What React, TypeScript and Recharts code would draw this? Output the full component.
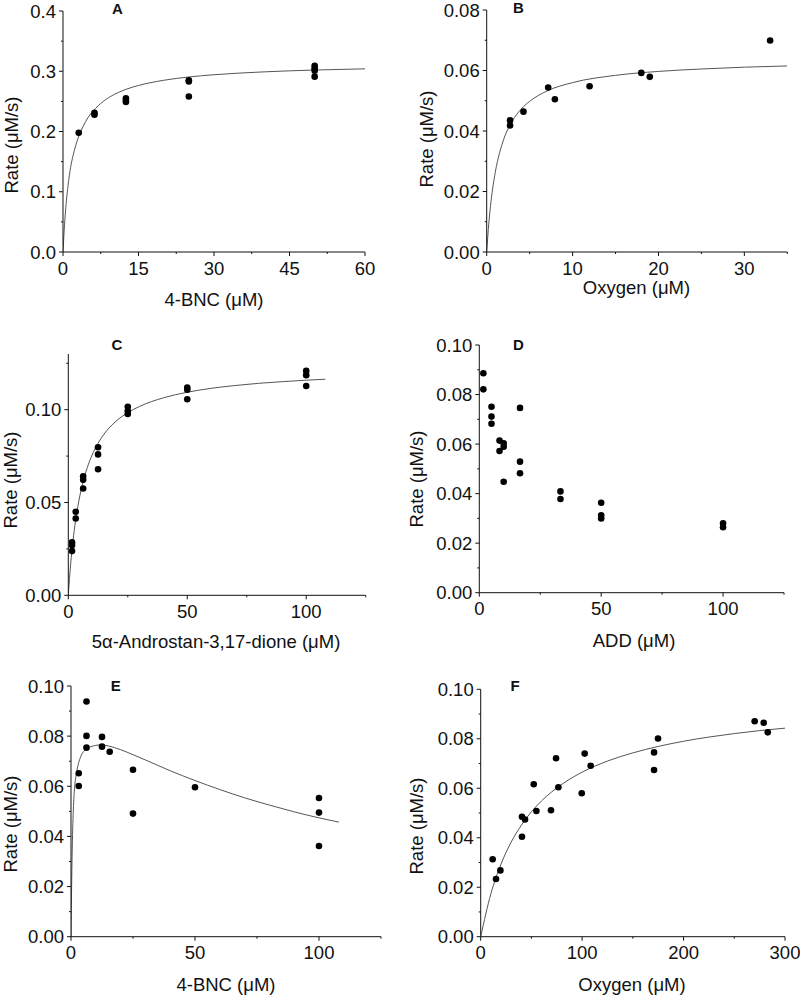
import React from 'react';
import { ComposedChart, XAxis, YAxis, Scatter, Line } from 'recharts';

const FONT = '"Liberation Sans", Arial, Helvetica, sans-serif';
const PAGE_W = 800;
const PAGE_H = 995;

// ---------- Panel A ----------
const aPointX = [3.125, 6.25, 6.25, 12.5, 12.5, 12.5, 25, 25, 25, 50, 50, 50, 50];
const aPointY = [0.198, 0.231, 0.228, 0.255, 0.251, 0.249, 0.285, 0.283, 0.258, 0.309, 0.305, 0.301, 0.291];
const aCurveX = [0, 0.25, 0.5, 1, 1.5, 2, 3, 4, 5, 6, 8, 10, 12.5, 15, 20, 25, 30, 40, 50, 60];
const aCurveY = [0, 0.038, 0.068, 0.11, 0.14, 0.16, 0.189, 0.2085, 0.2235, 0.234, 0.25, 0.2607, 0.27, 0.2764, 0.285, 0.2905, 0.2942, 0.299, 0.302, 0.304];
const aXMajor = [0, 15, 30, 45, 60];
const aXMinor = [7.5, 22.5, 37.5, 52.5];
const aYMajor = [0, 0.1, 0.2, 0.3, 0.4];
const aYMinor = [0.05, 0.15, 0.25, 0.35];

// ---------- Panel B ----------
const bPointX = [2.72, 2.72, 4.28, 7.16, 7.94, 11.98, 18.0, 18.99, 33.0];
const bPointY = [0.0435, 0.0418, 0.0464, 0.0544, 0.0505, 0.0548, 0.0592, 0.0579, 0.0699];
const bCurveX = [0, 0.25, 0.5, 1, 1.5, 2, 3, 4, 5, 7, 10, 15, 20, 25, 30, 35];
const bCurveY = [0, 0.0096, 0.0166, 0.0264, 0.0328, 0.0374, 0.0434, 0.0472, 0.0498, 0.0532, 0.056, 0.0584, 0.0597, 0.0605, 0.0611, 0.0615];
const bXMajor = [0, 10, 20, 30];
const bXMinor = [5, 15, 25, 35];
const bYMajor = [0, 0.02, 0.04, 0.06, 0.08];
const bYMinor = [0.01, 0.03, 0.05, 0.07];

// ---------- Panel C ----------
const cPointX = [1.5625, 1.5625, 1.5625, 3.125, 3.125, 6.25, 6.25, 6.25, 12.5, 12.5, 12.5, 25, 25, 25, 50, 50, 50, 100, 100, 100];
const cPointY = [0.0285, 0.027, 0.0238, 0.045, 0.0414, 0.0641, 0.0622, 0.0575, 0.0798, 0.0759, 0.0679, 0.1016, 0.0993, 0.0977, 0.1119, 0.1108, 0.1056, 0.1209, 0.1186, 0.1128];
const cCurveX = [0, 0.5, 1, 2, 3, 4, 6, 8, 10, 12.5, 15, 20, 25, 30, 40, 50, 60, 70, 80, 90, 100, 108];
const cCurveY = [0, 0.0091, 0.0169, 0.0297, 0.0397, 0.0478, 0.0601, 0.0689, 0.0756, 0.0819, 0.0868, 0.0937, 0.0984, 0.1018, 0.1064, 0.1094, 0.1115, 0.113, 0.1142, 0.1151, 0.1159, 0.1164];
const cXMajor = [0, 50, 100];
const cXMinor = [25, 75, 125];
const cYMajor = [0, 0.05, 0.1];
const cYMinor = [0.025, 0.075, 0.125];

// ---------- Panel D ----------
const dPointX = [1.67, 1.67, 5, 5, 5, 8.3, 8.3, 10, 10, 10, 16.7, 16.7, 16.7, 33.3, 33.3, 50, 50, 50, 100, 100];
const dPointY = [0.0886, 0.0821, 0.0751, 0.0711, 0.0682, 0.0614, 0.0572, 0.0603, 0.0589, 0.0448, 0.0746, 0.0529, 0.0482, 0.0409, 0.0378, 0.0363, 0.0312, 0.03, 0.028, 0.0264];
const dXMajor = [0, 50, 100];
const dXMinor = [25, 75, 125];
const dYMajor = [0, 0.02, 0.04, 0.06, 0.08, 0.1];
const dYMinor = [0.01, 0.03, 0.05, 0.07, 0.09];

// ---------- Panel E ----------
const ePointX = [3.125, 3.125, 6.25, 6.25, 6.25, 12.5, 12.5, 15.6, 25, 25, 50, 100, 100, 100];
const ePointY = [0.0652, 0.0601, 0.0938, 0.0801, 0.0754, 0.0797, 0.0758, 0.0738, 0.0666, 0.0491, 0.0596, 0.0553, 0.0495, 0.0362];
const eCurveX = [0, 0.25, 0.5, 1, 1.5, 2, 3, 4, 6, 8, 10, 12, 15, 20, 25, 30, 40, 50, 60, 70, 80, 90, 100, 108];
const eCurveY = [0, 0.02, 0.035, 0.052, 0.06, 0.064, 0.069, 0.072, 0.0748, 0.0758, 0.0763, 0.0765, 0.0761, 0.0746, 0.0726, 0.0705, 0.0662, 0.0623, 0.0587, 0.0554, 0.0525, 0.0498, 0.0474, 0.0457];
const eXMajor = [0, 50, 100];
const eXMinor = [25, 75, 125];
const eYMajor = [0, 0.02, 0.04, 0.06, 0.08, 0.1];
const eYMinor = [0.01, 0.03, 0.05, 0.07, 0.09];

// ---------- Panel F ----------
const fPointX = [11.8, 15.1, 19.4, 40.7, 40.7, 43.7, 52.3, 54.9, 69.3, 74.3, 76.6, 99.6, 102.5, 108.4, 170.9, 170.9, 174.8, 270.1, 279, 283];
const fPointY = [0.0313, 0.0233, 0.0268, 0.0485, 0.0404, 0.0474, 0.0616, 0.0508, 0.0511, 0.0721, 0.0604, 0.058, 0.074, 0.0691, 0.0745, 0.0674, 0.0801, 0.0871, 0.0865, 0.0826];
const fCurveX = [0, 10, 20, 30, 40, 50, 60, 80, 100, 125, 150, 175, 200, 225, 250, 275, 300];
const fCurveY = [0, 0.0173, 0.0293, 0.0382, 0.045, 0.0505, 0.0549, 0.0616, 0.0665, 0.071, 0.0743, 0.0769, 0.079, 0.0807, 0.0821, 0.0833, 0.0843];
const fXMajor = [0, 100, 200, 300];
const fXMinor = [50, 150, 250];
const fYMajor = [0, 0.02, 0.04, 0.06, 0.08, 0.1];
const fYMinor = [0.01, 0.03, 0.05, 0.07, 0.09];

type Pt = { x: number; y: number };
const zip = (xs: number[], ys: number[]): Pt[] => xs.map((x, i) => ({ x, y: ys[i] }));

type PanelSpec = {
  letter: string;
  letterPos: [number, number];
  box: { left: number; right: number; top: number; bottom: number };
  xDomain: [number, number];
  yDomain: [number, number];
  xMajor: number[];
  xMinor: number[];
  yMajor: number[];
  yMinor: number[];
  yDecimals: number;
  points: Pt[];
  curve: Pt[] | null;
  xTitle: string;
  xTitlePos: [number, number];
  yTitlePos: [number, number];
};

const panels: PanelSpec[] = [
  {
    letter: 'A', letterPos: [117.5, 8.5],
    box: { left: 63, right: 365, top: 11, bottom: 252 },
    xDomain: [0, 60], yDomain: [0, 0.4],
    xMajor: aXMajor, xMinor: aXMinor, yMajor: aYMajor, yMinor: aYMinor, yDecimals: 1,
    points: zip(aPointX, aPointY), curve: zip(aCurveX, aCurveY),
    xTitle: '4-BNC (μM)', xTitlePos: [214, 301.5], yTitlePos: [13.5, 145],
  },
  {
    letter: 'B', letterPos: [518.5, 8],
    box: { left: 486.7, right: 787.3, top: 10, bottom: 252 },
    xDomain: [0, 35], yDomain: [0, 0.08],
    xMajor: bXMajor, xMinor: bXMinor, yMajor: bYMajor, yMinor: bYMinor, yDecimals: 2,
    points: zip(bPointX, bPointY), curve: zip(bCurveX, bCurveY),
    xTitle: 'Oxygen (μM)', xTitlePos: [636.5, 289.5], yTitlePos: [428.5, 139],
  },
  {
    letter: 'C', letterPos: [117, 345],
    box: { left: 68.3, right: 365.7, top: 354, bottom: 595.3 },
    xDomain: [0, 125], yDomain: [0, 0.13],
    xMajor: cXMajor, xMinor: cXMinor, yMajor: cYMajor, yMinor: cYMinor, yDecimals: 2,
    points: zip(cPointX, cPointY), curve: zip(cCurveX, cCurveY),
    xTitle: '5α-Androstan-3,17-dione (μM)', xTitlePos: [216, 643.5], yTitlePos: [12, 480],
  },
  {
    letter: 'D', letterPos: [518.3, 345],
    box: { left: 479.3, right: 784, top: 345, bottom: 592.7 },
    xDomain: [0, 125], yDomain: [0, 0.1],
    xMajor: dXMajor, xMinor: dXMinor, yMajor: dYMajor, yMinor: dYMinor, yDecimals: 2,
    points: zip(dPointX, dPointY), curve: null,
    xTitle: 'ADD (μM)', xTitlePos: [634, 642], yTitlePos: [418.5, 479],
  },
  {
    letter: 'E', letterPos: [115.7, 686],
    box: { left: 71, right: 381, top: 686, bottom: 936.7 },
    xDomain: [0, 125], yDomain: [0, 0.1],
    xMajor: eXMajor, xMinor: eXMinor, yMajor: eYMajor, yMinor: eYMinor, yDecimals: 2,
    points: zip(ePointX, ePointY), curve: zip(eCurveX, eCurveY),
    xTitle: '4-BNC (μM)', xTitlePos: [226, 986], yTitlePos: [12, 824],
  },
  {
    letter: 'F', letterPos: [515, 686],
    box: { left: 480.7, right: 785, top: 689.3, bottom: 936.7 },
    xDomain: [0, 300], yDomain: [0, 0.1],
    xMajor: fXMajor, xMinor: fXMinor, yMajor: fYMajor, yMinor: fYMinor, yDecimals: 2,
    points: zip(fPointX, fPointY), curve: zip(fCurveX, fCurveY),
    xTitle: 'Oxygen (μM)', xTitlePos: [632, 986], yTitlePos: [418, 826],
  },
];

const TICK_FS = 18.5;
const TITLE_FS = 18.5;
const AXIS_COLOR = '#111';
const MAJOR_LEN = 4;
const MINOR_LEN = 2;

const isMajor = (list: number[], v: number) => list.some((m) => Math.abs(m - v) < 1e-9);

const makeXTick = (major: number[]) => (props: any) => {
  const { x, y, payload } = props;
  const v = payload.value;
  const mj = isMajor(major, v);
  return (
    <g>
      <line x1={x} x2={x} y1={y} y2={y + (mj ? MAJOR_LEN : MINOR_LEN)} stroke={AXIS_COLOR} strokeWidth={1} />
      {mj && (
        <text x={x} y={y + 22.5} textAnchor="middle" fontFamily={FONT} fontSize={TICK_FS} fill="#111">
          {String(v)}
        </text>
      )}
    </g>
  );
};

const makeYTick = (major: number[], decimals: number) => (props: any) => {
  const { x, y, payload } = props;
  const v = payload.value;
  const mj = isMajor(major, v);
  return (
    <g>
      <line x1={x - (mj ? MAJOR_LEN : MINOR_LEN)} x2={x} y1={y} y2={y} stroke={AXIS_COLOR} strokeWidth={1} />
      {mj && (
        <text x={x - 7} y={y + 6.6} textAnchor="end" fontFamily={FONT} fontSize={TICK_FS} fill="#111">
          {v.toFixed(decimals)}
        </text>
      )}
    </g>
  );
};

const Dot = (props: any) => {
  const { cx, cy } = props;
  if (cx == null || cy == null) return <g />;
  return <circle cx={cx} cy={cy} r={3.3} fill="#000" />;
};

const Panel = ({ p }: { p: PanelSpec }) => {
  const yAxisW = 40;
  const xAxisH = 30;
  const margin = {
    left: p.box.left - yAxisW,
    right: PAGE_W - p.box.right,
    top: p.box.top,
    bottom: PAGE_H - p.box.bottom - xAxisH,
  };
  const xTicks = [...p.xMajor, ...p.xMinor].sort((a, b) => a - b);
  const yTicks = [...p.yMajor, ...p.yMinor].sort((a, b) => a - b);
  return (
    <div style={{ position: 'absolute', left: 0, top: 0, width: PAGE_W, height: PAGE_H, pointerEvents: 'none' }}>
      <ComposedChart width={PAGE_W} height={PAGE_H} margin={margin} style={{ overflow: 'visible' }}>
        <XAxis
          type="number"
          dataKey="x"
          domain={p.xDomain}
          ticks={xTicks}
          interval={0}
          height={xAxisH}
          tickSize={0}
          tickMargin={0}
          tickLine={false}
          axisLine={{ stroke: AXIS_COLOR, strokeWidth: 1 }}
          tick={makeXTick(p.xMajor)}
          allowDataOverflow
        />
        <YAxis
          type="number"
          dataKey="y"
          domain={p.yDomain}
          ticks={yTicks}
          interval={0}
          width={yAxisW}
          tickSize={0}
          tickMargin={0}
          tickLine={false}
          axisLine={{ stroke: AXIS_COLOR, strokeWidth: 1 }}
          tick={makeYTick(p.yMajor, p.yDecimals)}
          allowDataOverflow
        />
        {p.curve && (
          <Line
            data={p.curve}
            dataKey="y"
            type="monotone"
            stroke="#555"
            strokeWidth={1}
            dot={false}
            activeDot={false}
            isAnimationActive={false}
          />
        )}
        <Scatter data={p.points} dataKey="y" shape={Dot} isAnimationActive={false} />
      </ComposedChart>
    </div>
  );
};

const Titles = () => (
  <svg
    width={PAGE_W}
    height={PAGE_H}
    style={{ position: 'absolute', left: 0, top: 0, pointerEvents: 'none' }}
  >
    {panels.map((p) => (
      <g key={p.letter}>
        <text
          x={p.letterPos[0]}
          y={p.letterPos[1] + 5.3}
          textAnchor="middle"
          fontFamily={FONT}
          fontWeight="bold"
          fontSize={15}
          fill="#111"
        >
          {p.letter}
        </text>
        <text
          x={p.xTitlePos[0]}
          y={p.xTitlePos[1] + 4.8}
          textAnchor="middle"
          fontFamily={FONT}
          fontSize={TITLE_FS}
          fill="#111"
        >
          {p.xTitle}
        </text>
        <text
          x={p.yTitlePos[0]}
          y={p.yTitlePos[1] + 4.8}
          textAnchor="middle"
          fontFamily={FONT}
          fontSize={TITLE_FS}
          fill="#111"
          transform={`rotate(-90, ${p.yTitlePos[0]}, ${p.yTitlePos[1]})`}
        >
          Rate (μM/s)
        </text>
      </g>
    ))}
  </svg>
);

export default function App() {
  return (
    <div
      style={{
        position: 'absolute',
        left: 0,
        top: 0,
        width: PAGE_W,
        height: PAGE_H,
        background: '#fff',
        overflow: 'hidden',
      }}
    >
      {panels.map((p) => (
        <Panel key={p.letter} p={p} />
      ))}
      <Titles />
    </div>
  );
}
